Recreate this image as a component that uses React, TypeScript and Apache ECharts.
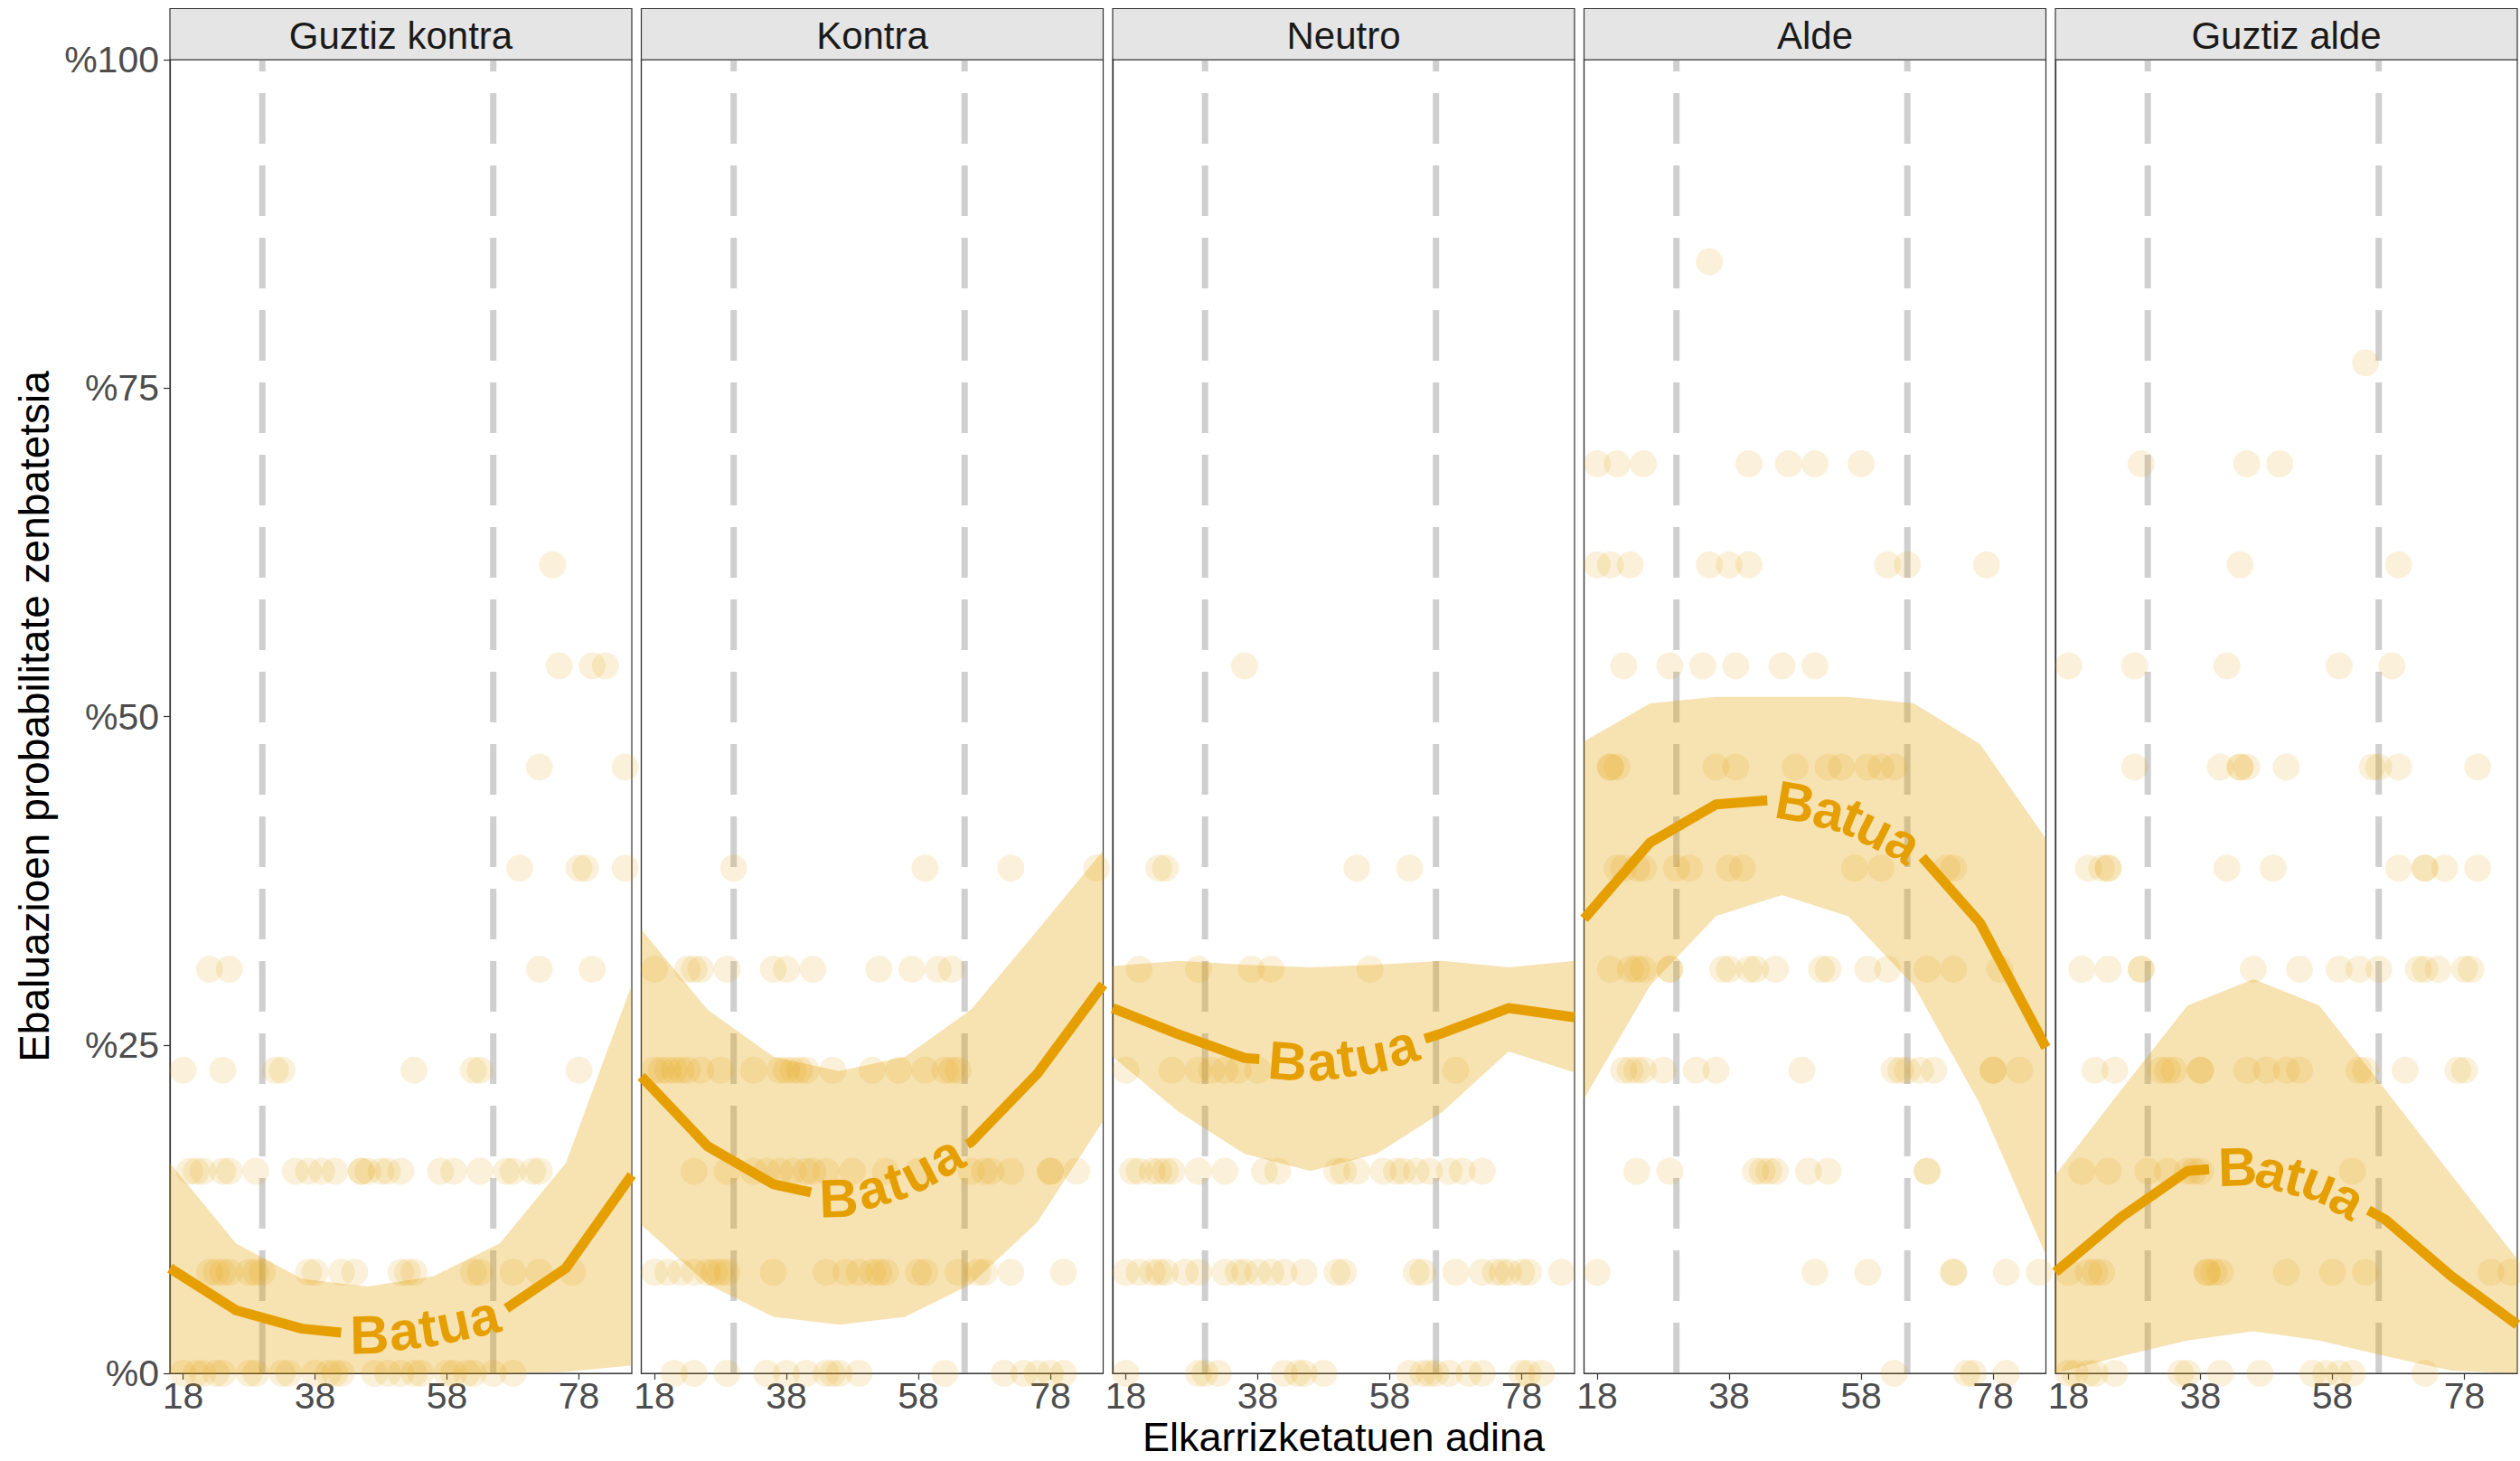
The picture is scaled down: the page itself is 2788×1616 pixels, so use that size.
import React, { useEffect, useRef } from 'react';
import * as echarts from 'echarts';

// ---------- data ----------
const panelNames = ['Guztiz kontra', 'Kontra', 'Neutro', 'Alde', 'Guztiz alde'];
const xTicks = [18, 38, 58, 78];
const cutAges = [30, 65];
const fitAges = [16, 26, 36, 46, 56, 66, 76, 86];
const levelDenominator = 13;
const labelText = 'Batua';
const yTitle = 'Ebaluazioen probabilitate zenbatetsia';
const xTitle = 'Elkarrizketatuen adina';

const fitGuztizKontra = [0.08, 0.048, 0.034, 0.029, 0.035, 0.046, 0.08, 0.151];
const lowGuztizKontra = [0, 0, 0, 0, 0, 0, 0.001, 0.006];
const highGuztizKontra = [0.16, 0.099, 0.072, 0.066, 0.074, 0.099, 0.16, 0.296];

const fitKontra = [0.226, 0.173, 0.144, 0.133, 0.148, 0.176, 0.228, 0.296];
const lowKontra = [0.113, 0.068, 0.043, 0.037, 0.043, 0.068, 0.115, 0.192];
const highKontra = [0.338, 0.277, 0.241, 0.23, 0.241, 0.277, 0.337, 0.398];

const fitNeutro = [0.278, 0.258, 0.24, 0.236, 0.243, 0.259, 0.278, 0.271];
const lowNeutro = [0.241, 0.199, 0.167, 0.154, 0.167, 0.199, 0.245, 0.229];
const highNeutro = [0.31, 0.314, 0.311, 0.309, 0.311, 0.314, 0.309, 0.314];

const fitAlde = [0.346, 0.404, 0.433, 0.437, 0.425, 0.4, 0.343, 0.248];
const lowAlde = [0.209, 0.295, 0.348, 0.364, 0.348, 0.295, 0.205, 0.09];
const highAlde = [0.481, 0.51, 0.515, 0.515, 0.515, 0.51, 0.479, 0.407];

const fitGuztizAlde = [0.077, 0.119, 0.154, 0.158, 0.145, 0.117, 0.074, 0.037];
const lowGuztizAlde = [0, 0.013, 0.025, 0.032, 0.025, 0.013, 0.002, 0];
const highGuztizAlde = [0.151, 0.216, 0.28, 0.3, 0.28, 0.216, 0.151, 0.087];

// [count out of 13, ages]
const pointsGuztizKontra: [number, number[]][] = [
  [0, [18, 20, 21, 23, 24, 28, 29, 33, 34, 38, 40, 41, 42, 47, 49, 51, 53, 54, 58, 59, 61, 62, 65, 68]],
  [1, [22, 23, 24, 25, 28, 29, 30, 37, 38, 42, 44, 51, 52, 53, 62, 63, 68, 72, 77]],
  [2, [19, 20, 21, 24, 25, 29, 35, 37, 39, 41, 45, 45, 46, 48, 49, 51, 57, 59, 63, 67, 68, 71, 72]],
  [3, [18, 24, 32, 33, 53, 62, 63, 78]],
  [4, [22, 25, 72, 80]],
  [5, [69, 78, 79, 85]],
  [6, [72, 85]],
  [7, [75, 80, 82]],
  [8, [74]],
];
const pointsKontra: [number, number[]][] = [
  [0, [21, 24, 29, 35, 38, 41, 44, 45, 46, 49, 62, 71, 74, 76, 78, 80]],
  [1, [18, 20, 22, 24, 26, 27, 28, 29, 36, 44, 47, 49, 51, 52, 53, 58, 59, 64, 67, 68, 72, 80]],
  [2, [24, 29, 33, 35, 37, 39, 41, 42, 44, 48, 53, 58, 66, 68, 69, 72, 78, 78, 82]],
  [3, [18, 19, 20, 21, 22, 23, 25, 28, 33, 37, 38, 39, 40, 41, 45, 51, 55, 59, 62, 63, 64]],
  [4, [18, 23, 24, 25, 29, 36, 38, 42, 52, 57, 61, 63]],
  [5, [30, 59, 72, 85]],
];
const pointsNeutro: [number, number[]][] = [
  [0, [18, 29, 30, 32, 42, 44, 45, 48, 61, 63, 64, 65, 67, 70, 72, 78, 79, 81]],
  [1, [18, 20, 22, 23, 24, 27, 29, 33, 35, 36, 38, 40, 42, 45, 50, 51, 62, 63, 68, 72, 74, 75, 76, 78, 79, 84]],
  [2, [19, 20, 22, 23, 24, 25, 29, 33, 39, 41, 50, 51, 53, 57, 59, 60, 62, 64, 67, 69, 72]],
  [3, [18, 25, 29, 31, 33, 35, 38, 68]],
  [4, [20, 29, 37, 40, 55]],
  [5, [23, 24, 53, 61]],
  [7, [36]],
];
const pointsAlde: [number, number[]][] = [
  [0, [63, 74, 75, 80]],
  [1, [18, 51, 59, 72, 72, 80, 85]],
  [2, [24, 29, 42, 43, 44, 45, 50, 53, 68, 68]],
  [3, [22, 23, 24, 25, 28, 33, 36, 49, 63, 64, 65, 67, 69, 78, 78, 82]],
  [4, [20, 23, 24, 25, 29, 29, 37, 38, 41, 42, 45, 52, 53, 59, 62, 68, 72, 79]],
  [5, [21, 22, 24, 25, 30, 32, 38, 40, 57, 61, 71, 72]],
  [6, [20, 20, 21, 36, 39, 48, 53, 55, 59, 61, 63]],
  [7, [22, 29, 34, 39, 46, 51]],
  [8, [18, 20, 23, 35, 38, 41, 62, 65, 77]],
  [9, [18, 21, 25, 41, 47, 51, 58]],
  [11, [35]],
];
const pointsGuztizAlde: [number, number[]][] = [
  [0, [18, 19, 21, 22, 25, 35, 36, 41, 47, 55, 57, 59, 61, 72]],
  [1, [18, 21, 22, 23, 39, 39, 40, 41, 51, 58, 63, 82, 85]],
  [2, [20, 24, 30, 33, 36, 37, 38, 61]],
  [3, [22, 25, 32, 33, 34, 38, 38, 45, 48, 51, 53, 62, 63, 69, 77, 78]],
  [4, [20, 24, 29, 29, 46, 53, 59, 62, 65, 71, 72, 74, 78, 79]],
  [5, [21, 23, 24, 24, 42, 49, 68, 72, 72, 75, 80]],
  [6, [28, 41, 44, 44, 45, 51, 64, 65, 68, 80]],
  [7, [18, 28, 42, 59, 67]],
  [8, [44, 68]],
  [9, [29, 45, 50]],
  [10, [63]],
];

const fits = [fitGuztizKontra, fitKontra, fitNeutro, fitAlde, fitGuztizAlde];
const lows = [lowGuztizKontra, lowKontra, lowNeutro, lowAlde, lowGuztizAlde];
const highs = [highGuztizKontra, highKontra, highNeutro, highAlde, highGuztizAlde];
const pointSets = [pointsGuztizKontra, pointsKontra, pointsNeutro, pointsAlde, pointsGuztizAlde];

// ---------- layout & style ----------
const FONT = '"Liberation Sans", Arial, Helvetica, sans-serif';
const PANEL_LEFT = 188;
const PANEL_STEP = 521.5;
const PANEL_W = 511;
const PANEL_TOP = 66;
const PANEL_H = 1453;
const STRIP_TOP = 9.5;
const ORANGE = '#E69F00';
const LABEL_FONT = `bold 60px ${FONT}`;
const LABEL_PAD = 10;

let measureCtx: CanvasRenderingContext2D | null = null;
function measure(s: string): number {
  if (!measureCtx) {
    const c = document.createElement('canvas');
    measureCtx = c.getContext('2d');
  }
  if (!measureCtx) return s.length * 30;
  measureCtx.font = LABEL_FONT;
  return measureCtx.measureText(s).width;
}

function renderRibbon(params: any, api: any) {
  if (params.dataIndexInside !== 0) return null;
  const n = params.dataInsideLength;
  const up: number[][] = [];
  const lo: number[][] = [];
  for (let i = 0; i < n; i++) {
    const x = api.value(0, i);
    up.push(api.coord([x, api.value(2, i)]));
    lo.push(api.coord([x, api.value(1, i)]));
  }
  return {
    type: 'polygon',
    shape: { points: up.concat(lo.reverse()) },
    style: { fill: 'rgba(230,159,0,0.3)' },
    silent: true,
  };
}

function renderFit(params: any, api: any) {
  if (params.dataIndexInside !== 0) return null;
  const n = params.dataInsideLength;
  const pts: number[][] = [];
  for (let i = 0; i < n; i++) pts.push(api.coord([api.value(0, i), api.value(1, i)]));
  const cum = [0];
  for (let i = 1; i < n; i++) {
    cum.push(cum[i - 1] + Math.hypot(pts[i][0] - pts[i - 1][0], pts[i][1] - pts[i - 1][1]));
  }
  const L = cum[n - 1];
  const at = (s: number) => {
    s = Math.max(0, Math.min(L, s));
    let k = 0;
    while (k < n - 2 && cum[k + 1] < s) k++;
    const seg = cum[k + 1] - cum[k] || 1;
    const t = (s - cum[k]) / seg;
    return [pts[k][0] + t * (pts[k + 1][0] - pts[k][0]), pts[k][1] + t * (pts[k + 1][1] - pts[k][1])];
  };
  const sub = (a: number, b: number) => {
    const out = [at(a)];
    for (let i = 0; i < n; i++) if (cum[i] > a && cum[i] < b) out.push(pts[i]);
    out.push(at(b));
    return out;
  };
  const chars = labelText.split('');
  const widths = chars.map((c) => measure(c));
  const W = widths.reduce((a, b) => a + b, 0);
  const s0 = L / 2 - W / 2;
  const s1 = L / 2 + W / 2;
  const lineStyle = { stroke: ORANGE, lineWidth: 11, fill: null, lineCap: 'butt', lineJoin: 'round' };
  const children: any[] = [
    { type: 'polyline', shape: { points: sub(0, s0 - LABEL_PAD) }, style: lineStyle },
    { type: 'polyline', shape: { points: sub(s1 + LABEL_PAD, L) }, style: lineStyle },
  ];
  let acc = s0;
  chars.forEach((ch, j) => {
    const w = widths[j];
    const c = acc + w / 2;
    const p = at(c);
    const pa = at(c - w / 2 - 4);
    const pb = at(c + w / 2 + 4);
    const ang = Math.atan2(pb[1] - pa[1], pb[0] - pa[0]);
    children.push({
      type: 'text',
      x: p[0],
      y: p[1],
      rotation: -ang,
      style: { text: ch, font: LABEL_FONT, fill: ORANGE, align: 'center', verticalAlign: 'middle' },
    });
    acc += w;
  });
  return { type: 'group', children, silent: true };
}

function buildOption() {
  const grid: any[] = [];
  const xAxis: any[] = [];
  const yAxis: any[] = [];
  const series: any[] = [];
  const graphic: any[] = [];

  panelNames.forEach((name, i) => {
    const left = PANEL_LEFT + i * PANEL_STEP;
    grid.push({
      left, top: PANEL_TOP, width: PANEL_W, height: PANEL_H,
      show: true, borderColor: '#333333', borderWidth: 1.2, backgroundColor: '#ffffff',
      containLabel: false, outerBoundsMode: 'none',
    });
    xAxis.push({
      gridIndex: i, type: 'value', min: 16, max: 86,
      axisLine: { show: true, lineStyle: { color: '#333333', width: 1.2 } },
      splitLine: { show: false },
      axisTick: { show: true, customValues: xTicks, length: 7, lineStyle: { color: '#333333', width: 1.2 } },
      axisLabel: {
        customValues: xTicks, fontSize: 41, lineHeight: 38, color: '#4d4d4d', margin: 6, fontFamily: FONT,
      },
    });
    yAxis.push({
      gridIndex: i, type: 'value', min: 0, max: 1, interval: 0.25,
      axisLine: { show: true, lineStyle: { color: '#333333', width: 1.2 } },
      splitLine: { show: false },
      axisTick: { show: i === 0, length: 7, lineStyle: { color: '#333333', width: 1.2 } },
      axisLabel: {
        show: i === 0, fontSize: 41, color: '#4d4d4d', margin: 12, fontFamily: FONT,
        formatter: (v: number) => '%' + Math.round(v * 100),
      },
    });

    cutAges.forEach((a) => {
      series.push({
        type: 'line', xAxisIndex: i, yAxisIndex: i, data: [[a, 0], [a, 1]],
        symbol: 'none', silent: true, z: 1, animation: false,
        lineStyle: { color: 'rgba(128,128,128,0.38)', width: 7, type: [56, 24], cap: 'butt' },
      });
    });

    series.push({
      type: 'custom', xAxisIndex: i, yAxisIndex: i, z: 2, silent: true,
      data: fitAges.map((x, k) => [x, lows[i][k], highs[i][k]]),
      renderItem: renderRibbon,
      encode: { x: 0, y: [1, 2] },
    });

    const pts: number[][] = [];
    pointSets[i].forEach(([count, ages]) => {
      ages.forEach((age) => pts.push([age, count / levelDenominator]));
    });
    series.push({
      type: 'scatter', xAxisIndex: i, yAxisIndex: i, z: 3, silent: true, clip: true,
      symbol: 'circle', symbolSize: 30, data: pts,
      itemStyle: { color: 'rgba(230,159,0,0.18)', borderWidth: 0 },
    });

    series.push({
      type: 'custom', xAxisIndex: i, yAxisIndex: i, z: 4, silent: true,
      data: fitAges.map((x, k) => [x, fits[i][k]]),
      renderItem: renderFit,
      encode: { x: 0, y: 1 },
    });

    graphic.push({
      type: 'rect', x: left, y: STRIP_TOP,
      shape: { x: 0, y: 0, width: PANEL_W, height: PANEL_TOP - STRIP_TOP },
      style: { fill: '#e5e5e5', stroke: '#333333', lineWidth: 1.2 },
      silent: true,
    });
    graphic.push({
      type: 'text', x: left + PANEL_W / 2, y: 39,
      style: { text: name, font: `42px ${FONT}`, fill: '#1a1a1a', align: 'center', verticalAlign: 'middle' },
      silent: true,
    });
  });

  graphic.push({
    type: 'text', x: 38, y: PANEL_TOP + PANEL_H / 2, rotation: Math.PI / 2,
    style: { text: yTitle, font: `46px ${FONT}`, fill: '#000000', align: 'center', verticalAlign: 'middle' },
    silent: true,
  });
  graphic.push({
    type: 'text', x: (PANEL_LEFT + PANEL_LEFT + 4 * PANEL_STEP + PANEL_W) / 2, y: 1589,
    style: {
      text: xTitle, font: `45px ${FONT}`, lineHeight: 44, fill: '#000000', align: 'center', verticalAlign: 'middle',
    },
    silent: true,
  });

  return {
    animation: false,
    backgroundColor: '#ffffff',
    textStyle: { fontFamily: FONT },
    grid, xAxis, yAxis, series, graphic,
  };
}

export default function App() {
  const ref = useRef<HTMLDivElement>(null);
  useEffect(() => {
    if (!ref.current) return;
    const chart = echarts.init(ref.current, null, { renderer: 'svg' });
    chart.setOption(buildOption() as any);
    return () => chart.dispose();
  }, []);
  return (
    <div
      ref={ref}
      style={{ position: 'fixed', left: 0, top: 0, width: 2788, height: 1616, background: '#fff' }}
    />
  );
}
